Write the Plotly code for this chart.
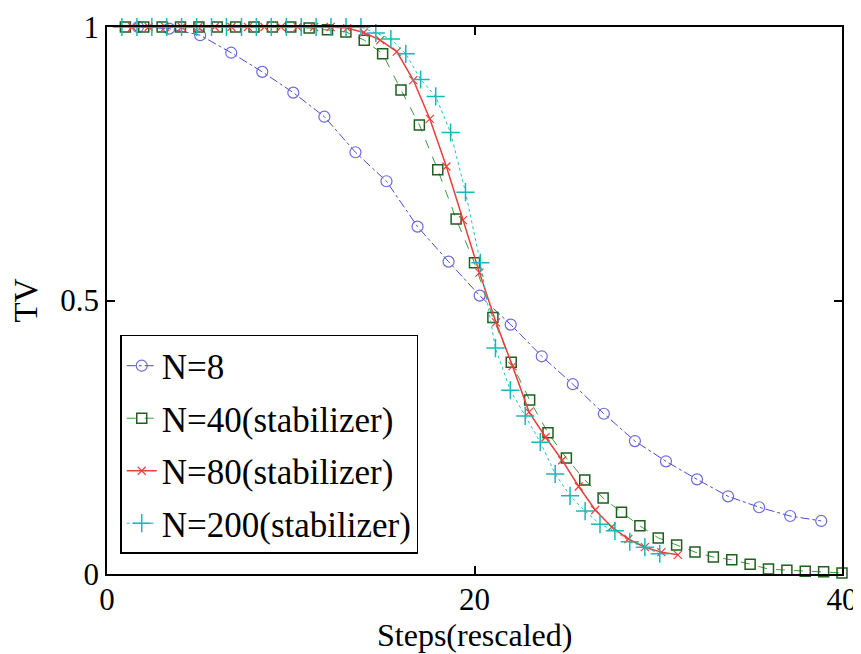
import plotly.graph_objects as go

# ---- data ----
n8_x = [round(1.69 * k, 2) for k in range(1, 24)]
n8_y = [1.0, 0.997, 0.985, 0.953, 0.918, 0.88, 0.836, 0.771, 0.718, 0.635, 0.571,
        0.509, 0.456, 0.398, 0.347, 0.293, 0.243, 0.206, 0.173, 0.142, 0.122, 0.106, 0.097]

n40_x = list(range(1, 41))
n40_y = [1.0, 1.0, 1.0, 1.0, 1.0, 1.0, 1.0, 1.0, 1.0, 1.0, 0.998, 0.995, 0.991, 0.976,
         0.951, 0.885, 0.821, 0.739, 0.649, 0.569, 0.469, 0.387, 0.318, 0.258, 0.212,
         0.172, 0.139, 0.113, 0.088, 0.066, 0.053, 0.040, 0.031, 0.026, 0.018, 0.009,
         0.007, 0.005, 0.004, 0.002]

n80_x = [round(0.47 + 0.9 * k, 2) for k in range(1, 35)]
n80_y = [1.0] * 13 + [0.998, 0.99, 0.976, 0.955, 0.903, 0.832, 0.745, 0.647, 0.551,
                      0.46, 0.38, 0.296, 0.25, 0.208, 0.16, 0.117, 0.086, 0.064,
                      0.049, 0.040, 0.035]

n200_x = [round(0.813 * k, 2) for k in range(1, 38)]
n200_y = [1.0] * 17 + [0.989, 0.978, 0.951, 0.904, 0.873, 0.807, 0.698, 0.569, 0.413,
                       0.336, 0.289, 0.241, 0.183, 0.143, 0.115, 0.091, 0.079, 0.059,
                       0.049, 0.037]

x_ticks = [0, 20, 40]
y_ticks = [0, 0.5, 1]
y_tick_text = ["0", "0.5", "1"]

FONT = "Liberation Serif, Liberation Sans, Arial, sans-serif"

fig = go.Figure()

fig.add_trace(go.Scatter(
    x=n8_x, y=n8_y, name="N=8", mode="lines+markers", legendgroup="a",
    line=dict(color="#4a4ad0", width=1, dash="dashdot"),
    marker=dict(symbol="circle-open", size=11, color="#6b6bd8", line=dict(width=1.2)),
    cliponaxis=False))
fig.add_trace(go.Scatter(
    x=n40_x, y=n40_y, name="N=40(stabilizer)", mode="lines+markers", legendgroup="b",
    line=dict(color="#3a9a3a", width=1, dash="dash"),
    marker=dict(symbol="square-open", size=10, color="#1f5f1f", line=dict(width=1.5)),
    cliponaxis=False))
fig.add_trace(go.Scatter(
    x=n80_x, y=n80_y, name="N=80(stabilizer)", mode="lines+markers", legendgroup="c",
    line=dict(color="#e8403c", width=1.5),
    marker=dict(symbol="x-thin-open", size=8, color="#e8403c", line=dict(width=1.2)),
    cliponaxis=False))
fig.add_trace(go.Scatter(
    x=n200_x, y=n200_y, name="N=200(stabilizer)", mode="lines+markers", legendgroup="d",
    line=dict(color="#22bfbf", width=1, dash="dot"),
    marker=dict(symbol="cross-thin-open", size=13, color="#18b8b8", line=dict(width=1.5)),
    cliponaxis=False))

axis_common = dict(
    showline=True, linecolor="black", linewidth=1.5, mirror="allticks",
    ticks="inside", ticklen=8, tickwidth=1.5, tickcolor="black",
    showgrid=False, zeroline=False, automargin=False,
    tickfont=dict(family=FONT, size=31, color="black"),
)

# page body has an 8px margin; the figure is sized to fit the 861x654 window
fig.update_layout(
    width=853, height=646,
    margin=dict(l=99, r=19, t=19, b=80),
    paper_bgcolor="white", plot_bgcolor="white",
    font=dict(family=FONT, size=33, color="black"),
    xaxis=dict(range=[0, 40], tickvals=x_ticks, ticktext=[str(v) for v in x_ticks],
               ticklabelstandoff=-3, **axis_common),
    yaxis=dict(range=[0, 1], tickvals=y_ticks, ticktext=y_tick_text,
               **axis_common),
    legend=dict(x=0.018, y=0.437, xanchor="left", yanchor="top",
                bgcolor="white", bordercolor="black", borderwidth=1.5,
                font=dict(family=FONT, size=35, color="black"),
                traceorder="grouped", tracegroupgap=4),
    showlegend=True,
    annotations=[
        dict(text="Steps(rescaled)", xref="paper", yref="paper", x=0.5, y=0,
             xanchor="center", yanchor="middle", yshift=-61, showarrow=False,
             font=dict(family=FONT, size=32, color="black")),
        dict(text="TV", xref="paper", yref="paper", x=0, y=0.5, textangle=-90,
             xanchor="center", yanchor="middle", xshift=-82, showarrow=False,
             font=dict(family=FONT, size=33, color="black")),
    ],
)

fig.write_html("out.html")
